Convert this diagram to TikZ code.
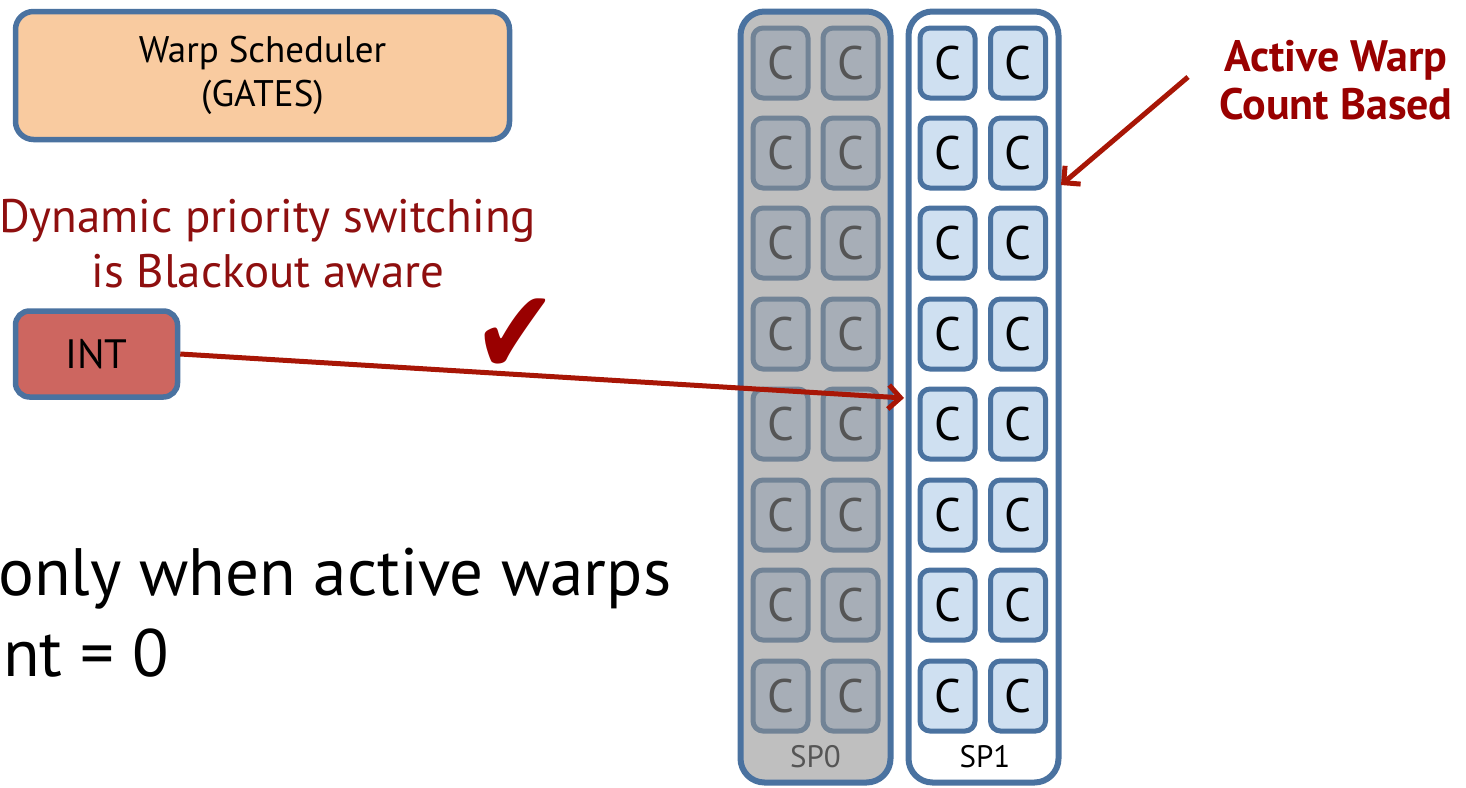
\documentclass[tikz,border=0pt]{standalone}
\usepackage{fontspec}
\setmainfont{PT Sans}
\newfontfamily\symfont{DejaVu Sans}
\usetikzlibrary{arrows.meta}
\definecolor{frameblue}{HTML}{4A72A0}
\definecolor{peach}{HTML}{F9CBA0}
\definecolor{intred}{HTML}{CD6660}
\definecolor{darkred}{HTML}{8E0F0F}
\definecolor{boldred}{HTML}{990000}
\definecolor{linkred}{HTML}{A81606}
\definecolor{spgray}{HTML}{BFBFBF}
\definecolor{cellgray}{HTML}{A7AEB7}
\definecolor{cellgrayedge}{HTML}{718396}
\definecolor{cellblue}{HTML}{CFE0F1}
\definecolor{textgray}{HTML}{555555}
\tikzset{
  unitbox/.style={draw=frameblue, line width=5.5pt, rounded corners=18pt},
  spcol/.style={draw=frameblue, line width=6pt, rounded corners=24pt,
    minimum width=150pt, minimum height=771pt, inner sep=0pt},
  offcell/.style={draw=cellgrayedge, fill=cellgray, line width=5pt, rounded corners=10pt,
    minimum width=55pt, minimum height=70pt, inner sep=0pt, text=textgray,
    font=\fontsize{47}{47}\selectfont},
  oncell/.style={draw=frameblue, fill=cellblue, line width=5pt, rounded corners=10pt,
    minimum width=55pt, minimum height=70pt, inner sep=0pt, text=black,
    font=\fontsize{47}{47}\selectfont},
  link/.style={draw=linkred, line width=5pt, -{Straight Barb[length=12pt,width=24pt,line width=5pt]}},
}
\begin{document}
\begin{tikzpicture}[x=1pt, y=-1pt]
\useasboundingbox (0,0) rectangle (1466,787);

% scheduler and interrupt unit
\node[unitbox, fill=peach, minimum width=494pt, minimum height=128pt, align=center,
  font=\fontsize{37}{44}\selectfont] (sched) at (262.5,75.5) {Warp Scheduler\\(GATES)};
\node[text=darkred, align=center, font=\fontsize{47}{55}\selectfont] (note) at (268,244)
  {Dynamic priority switching\\is Blackout aware};
\node[unitbox, fill=intred, rounded corners=14pt, minimum width=162pt, minimum height=86pt,
  font=\fontsize{41}{41}\selectfont] (int) at (96.5,354) {INT};
\node[text=boldred, yscale=1.2, transform shape, font=\fontsize{100}{100}\selectfont\symfont] (tick) at (515,337) {✔};

% condition text
\node[anchor=base west, inner sep=0pt, font=\fontsize{67}{67}\selectfont] (cond1) at (-2,595) {only when active warps};
\node[anchor=base west, inner sep=0pt, font=\fontsize{67}{67}\selectfont] (cond2) at (3,676) {nt = 0};

% sub-partitions
\node[spcol, fill=spgray] (sp0) at (815.5,397) {};
\node[spcol, fill=white] (sp1) at (983.5,397) {};
\foreach \r/\y in {1/63,2/153,3/243,4/334,5/424,6/515,7/605,8/696} {
  \node[offcell] (a\r) at (780.5,\y) {C};
  \node[offcell] (b\r) at (850.5,\y) {C};
  \node[oncell] (c\r) at (947.5,\y) {C};
  \node[oncell] (d\r) at (1018,\y) {C};
}
\node[text=textgray, font=\fontsize{31}{31}\selectfont] (lab0) at (815.5,757) {SP0};
\node[text=black, font=\fontsize{31}{31}\selectfont] (lab1) at (985,757) {SP1};

% active warp label
\node[text=boldred, align=center, font=\fontsize{44}{48}\selectfont\bfseries] (awc) at (1336,80)
  {Active Warp\\Count Based};

% connectors
\coordinate (intout) at (int.east);
\coordinate (sp1in) at (904,398);
\draw[link] (intout) -- (sp1in);
\coordinate (awcstart) at (1188,77);
\coordinate (sp1edge) at (1061,185);
\draw[link] (awcstart) -- (sp1edge);
\end{tikzpicture}
\end{document}
